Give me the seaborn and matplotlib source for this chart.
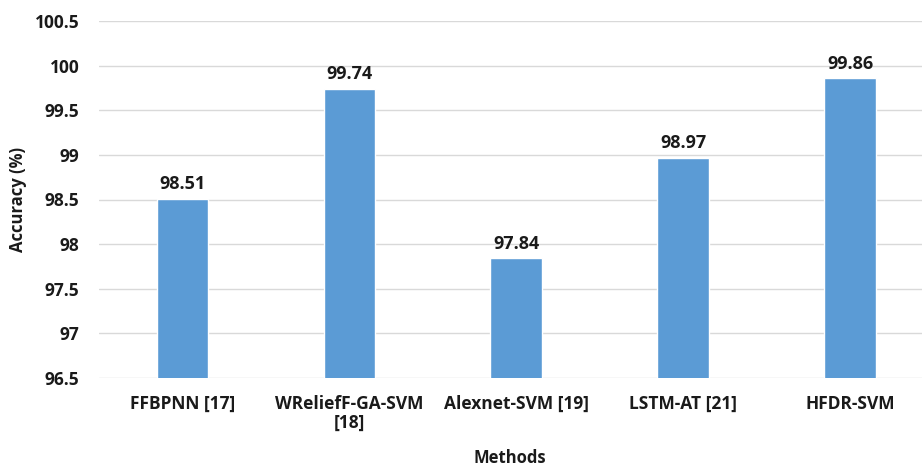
import matplotlib
matplotlib.use("Agg")
import matplotlib.pyplot as plt
import seaborn as sns
import pandas as pd

methods = ["FFBPNN [17]", "WReliefF-GA-SVM\n[18]", "Alexnet-SVM [19]", "LSTM-AT [21]", "HFDR-SVM"]
accuracy = [98.51, 99.74, 97.84, 98.97, 99.86]
yticks = [96.5, 97, 97.5, 98, 98.5, 99, 99.5, 100, 100.5]
ytick_labels = ["96.5", "97", "97.5", "98", "98.5", "99", "99.5", "100", "100.5"]

df = pd.DataFrame({"Methods": methods, "Accuracy": accuracy})

sns.set_style("white")
plt.rcParams['font.family'] = ['Open Sans', 'DejaVu Sans']

fig = plt.figure(figsize=(9.22, 4.66), dpi=100)
ax = fig.add_axes([99 / 922, 1 - 378 / 466, 1 - 99 / 922, (378 - 21) / 466])

sns.barplot(data=df, x="Methods", y="Accuracy", color="#5B9BD5", width=0.31,
            saturation=1, ax=ax, zorder=3)
ax.set_ylim(yticks[0], yticks[-1])
ax.set_xlim(-0.5, 4.43)

txt = "#1a1a1a"
ax.set_yticks(yticks)
ax.set_yticklabels(ytick_labels, fontsize=12.5, fontweight="bold", color=txt)
ax.set_xticks(range(len(methods)))
ax.set_xticklabels(methods, fontsize=12.5, fontweight="bold", color=txt,
                   linespacing=1.05)
ax.tick_params(axis="y", length=0, pad=14)
ax.tick_params(axis="x", length=0, pad=12)

ax.yaxis.grid(True, color="#D9D9D9", linewidth=1, zorder=0)
ax.set_axisbelow(True)
for s in ax.spines.values():
    s.set_visible(False)

for i, v in enumerate(accuracy):
    ax.text(i, v + 0.06, f"{v:.2f}", ha="center", va="bottom",
            fontsize=13, fontweight="bold", color=txt)

ax.set_xlabel("")
ax.set_ylabel("")
fig.text(510 / 922, 1 - 458 / 466, "Methods", ha="center", va="center",
         fontsize=12, fontweight="bold", color=txt)
fig.text(18 / 922, 1 - 200 / 466, "Accuracy (%)", ha="center", va="center",
         rotation=90, fontsize=12, fontweight="bold", color=txt)

fig.savefig("out.png", dpi=100)
